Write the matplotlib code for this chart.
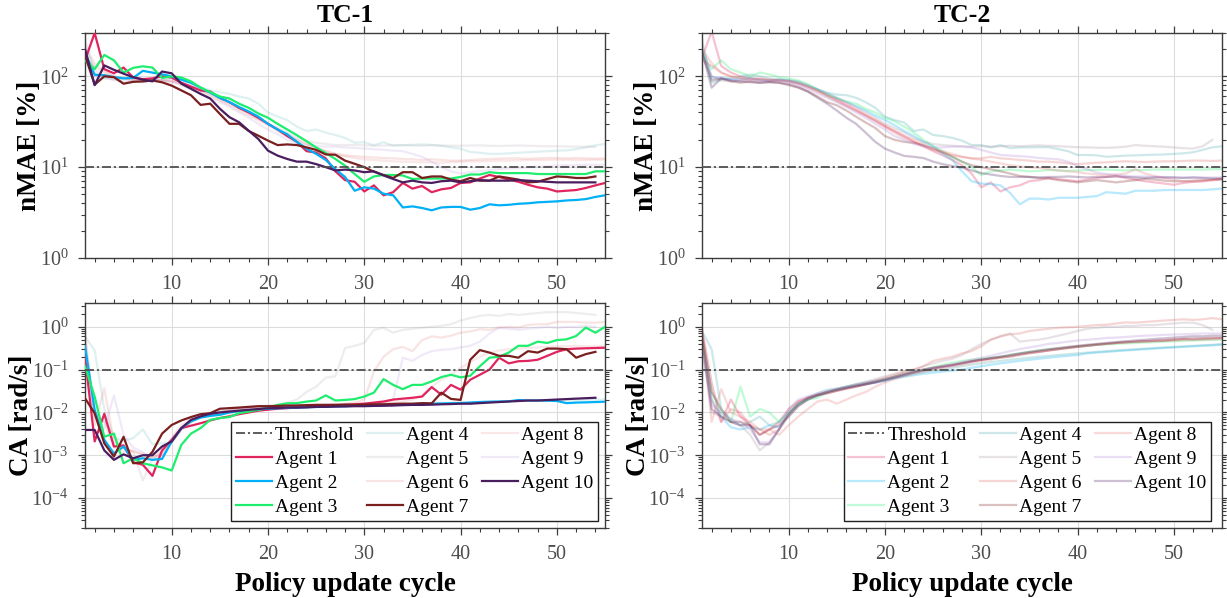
import numpy as np
import matplotlib
matplotlib.use('Agg')
import matplotlib.pyplot as plt
from matplotlib.ticker import MultipleLocator, LogLocator, NullFormatter

nan = np.nan

# ---------------- data ----------------
cycles = list(range(1, 56))
agent_names = ['Agent %d' % i for i in range(1, 11)]
agent_colors = ['#E0245E', '#00B0F6', '#1EEE6E', '#4FAFB0', '#A898A8',
                '#E06A6A', '#7A1F1F', '#E87A7A', '#B08AD8', '#4A1E5E']
tc1_highlight = [1, 2, 3, 7, 10]
nmae_threshold = 10
ca_threshold = 0.1

# TC-1, nMAE [%]
nmae1_a1 = [150, 300, 120, 108, 125, 97, 93, 95, 100, 97,
            85, 77, 70, 68, 58, 52, 45, 40, 35, 30,
            26, 22, 19, 15, 14.5, 12.5, 9.0, 7.2, 6.9, 5.4,
            6.3, 4.9, 5.3, 6.7, 5.8, 6.2, 5.3, 5.7, 5.9, 6.7,
            6.8, 7.5, 8.2, 7.8, 7.3, 6.9, 6.4, 6.0, 5.8, 5.4,
            5.5, 5.6, 5.9, 6.3, 6.7]
nmae1_a2 = [180, 104, 103, 98, 95, 96, 115, 110, 105, 100,
            92, 85, 75, 66, 58, 52, 46, 41, 36, 30,
            26, 23, 19, 16, 14, 12, 9.5, 7.8, 5.5, 6.0,
            5.8, 5.1, 4.9, 3.6, 3.7, 3.55, 3.35, 3.6, 3.65, 3.65,
            3.4, 3.55, 3.9, 3.8, 3.85, 3.95, 4.0, 4.1, 4.15, 4.2,
            4.3, 4.35, 4.45, 4.7, 4.9]
nmae1_a3 = [150, 120, 172, 150, 110, 124, 129, 125, 96, 100,
            97, 88, 75, 67, 60, 57, 50, 45, 39, 35,
            30, 26, 22.5, 19.3, 16.5, 14.3, 12.3, 10.4, 8.4, 6.9,
            7.9, 8.2, 8.2, 8.1, 7.4, 7.5, 7.5, 7.5, 7.5, 7.8,
            8.3, 8.3, 8.8, 8.6, 8.6, 8.6, 8.6, 8.4, 8.4, 8.4,
            8.4, 8.4, 8.4, 9.0, 9.0]
nmae1_a4 = [220, 110, 95, 95, 85, 88, 86, 90, 92, 95,
            88, 82, 76, 70, 67, 64, 60, 57, 50, 40,
            36, 33, 28, 25, 26, 24, 22.6, 21, 18.6, 18.8,
            17.4, 18.8, 17.2, 17.5, 17.6, 17.8, 17.6, 17.2, 16.5, 16.0,
            14.7, 14.4, 14.0, 14.0, 14.2, 14.4, 14.6, 14.8, 15.0, 15.2,
            15.3, 15.8, 16.5, 17.4, 18.0]
nmae1_a5 = [250, 120, 100, 90, 95, 90, 88, 90, 92, 90,
            85, 78, 72, 65, 58, 52, 45, 40, 35, 30,
            27, 24, 21, 19.5, 18.5, 18, 17.5, 17.5, 17.6, 17.4,
            17.2, 17.3, 17.5, 17.4, 17.3, 17.2, 17.4, 17.3, 17.2, 17.2,
            17.3, 17.4, 17.2, 17.1, 17.2, 17.3, 17.2, 17.1, 17.0, 17.0,
            16.9, 16.8, 16.8, 16.7, nan]
nmae1_a6 = [160, 130, 110, 100, 95, 92, 90, 92, 90, 88,
            82, 75, 68, 61, 54, 48, 42, 37, 33, 29,
            25, 22, 20, 18, 16.5, 15, 14, 13.5, 13.2, 13,
            12.8, 12.6, 12.5, 12.3, 12.2, 12.0, 12.2, 12.0, 11.8, 11.8,
            12.0, 12.2, 12.3, 12.4, 12.5, 12.5, 12.4, 12.5, 12.6, 12.6,
            12.5, 12.6, 12.5, 12.4, 12.5]
nmae1_a7 = [170, 81, 100, 98, 83, 87, 88, 90, 86, 79,
            70, 62, 48.5, 50, 38.6, 30, 30, 25, 22.2, 19.6,
            17.5, 17.8, 17.5, 16.5, 15.5, 13.8, 13.7, 11.8, 10.9, 10.0,
            8.9, 8.2, 7.6, 8.8, 8.8, 7.6, 7.9, 7.9, 7.3, 7.0,
            7.6, 7.1, 7.1, 7.9, 7.6, 7.3, 6.8, 6.9, 7.4, 7.9,
            7.8, 7.6, 7.6, 7.9, nan]
nmae1_a8 = [200, 140, 115, 100, 96, 94, 95, 92, 90, 88,
            84, 78, 70, 63, 56, 50, 44, 39, 34, 30,
            26, 23, 20, 18, 16, 15, 14, 13.2, 12.6, 12.2,
            12.0, 11.8, 11.6, 11.5, 11.4, 11.3, 11.3, 11.2, 11.4, 11.5,
            11.6, 11.6, 11.7, 11.8, 11.8, 11.9, 12.0, 12.0, 12.0, 12.1,
            12.1, 12.0, 12.0, 12.1, 12.1]
nmae1_a9 = [170, 100, 95, 93, 90, 92, 88, 90, 90, 86,
            80, 72, 65, 58, 52, 46, 40, 35, 30, 26,
            23, 20, 18.5, 17.5, 17, 16.8, 16.8, 16.5, 16.3, 16,
            15.8, 15.5, 15.2, 15, 14, 13, 11.5, 10, 9, 8.5,
            8.8, 9.0, 9.3, 9.5, 9.6, 9.8, 10.0, 10.1, 10.2, 10.4,
            10.5, 10.5, 10.6, 10.6, 10.7]
nmae1_a10 = [200, 80, 132, 118, 107, 98, 92, 88, 113, 108,
             83, 73, 64, 57, 44, 35.5, 31.2, 25.2, 20.4, 15.2,
             13.4, 12.3, 11.5, 11.5, 10.8, 10.0, 9.2, 9.4, 9.2, 8.8,
             9.0, 8.1, 7.4, 6.8, 7.1, 6.8, 6.7, 7.0, 7.1, 6.8,
             7.0, 7.2, 7.1, 7.1, 7.1, 7.2, 7.1, 7.0, 6.9, 6.8,
             6.8, 6.8, 6.8, 6.8, nan]

# TC-2, nMAE [%]
nmae2_a1 = [160, 310, 130, 110, 100, 95, 93, 90, 92, 90,
            85, 77, 70, 62, 55, 48, 42, 37, 32, 28,
            25, 22, 19, 17, 15, 13.5, 12, 10.5, 8.5, 6.0,
            6.8, 5.4, 6.0, 6.3, 7.0, 7.2, 7.6, 7.4, 7.2, 7.0,
            7.3, 7.6, 7.8, 8.0, 7.6, 7.3, 7.0, 6.8, 6.6, 6.4,
            6.7, 6.9, 7.0, 7.2, 7.3]
nmae2_a2 = [200, 95, 96, 92, 94, 96, 92, 90, 92, 90,
            85, 78, 72, 65, 58, 52, 47, 42, 37, 33,
            29, 25, 22, 19, 17, 14, 12, 9, 7, 6.6,
            6.5, 6.3, 5.2, 3.9, 4.5, 4.5, 4.4, 4.6, 4.6, 4.6,
            4.7, 4.8, 5.3, 5.2, 5.1, 5.5, 5.5, 5.5, 5.6, 5.6,
            5.6, 5.6, 5.6, 5.7, 5.8]
nmae2_a3 = [180, 120, 150, 120, 110, 100, 110, 105, 98, 95,
            90, 82, 72, 62, 57, 53, 50, 44, 40, 35,
            32, 28, 24, 20, 17, 15, 13, 11.5, 10, 8.2,
            9.0, 9.2, 9.4, 9.2, 9.0, 9.1, 9.3, 9.2, 9.1, 9.2,
            9.3, 9.3, 9.4, 9.3, 9.2, 9.3, 9.3, 9.4, 9.4, 9.4,
            9.4, 9.4, 9.4, 9.5, 9.5]
nmae2_a4 = [250, 85, 92, 96, 100, 105, 100, 95, 92, 90,
            88, 80, 72, 66, 63, 62, 58, 52, 45, 36,
            33, 31, 25, 26, 22.6, 22, 21, 19.6, 17.5, 17.5,
            16.5, 17.5, 16.2, 16.5, 16.5, 16.6, 16.6, 15.8, 15, 13.6,
            13.6, 13.5, 13.0, 13.2, 13.4, 13.5, 13.6, 13.7, 13.8, 14.0,
            14.2, 14.6, 15.5, 16.5, 17.0]
nmae2_a5 = [220, 100, 90, 88, 90, 95, 90, 88, 90, 88,
            84, 78, 70, 64, 58, 52, 46, 40, 35, 30,
            27, 24, 21, 19, 18, 17.5, 17.2, 17.0, 16.8, 17.0,
            16.8, 17.0, 17.2, 17.0, 17.2, 17.4, 17.2, 17.0, 16.8, 16.6,
            16.5, 16.4, 16.3, 16.5, 16.8, 17.5, 17.2, 17.0, 16.8, 16.5,
            16.2, 16.0, 17.0, 20.0, nan]
nmae2_a6 = [150, 130, 110, 100, 95, 90, 92, 92, 90, 88,
            82, 75, 68, 60, 53, 47, 42, 37, 33, 28,
            24, 21, 19, 17, 15.5, 14.5, 13.5, 13, 12.5, 12.5,
            13, 12.5, 12.3, 12, 11.8, 11.5, 11.5, 11.3, 11, 10.8,
            11, 11.2, 11.3, 11.5, 11.6, 11.5, 11.4, 11.5, 11.6, 11.6,
            11.7, 11.8, 11.8, 11.7, 11.8]
nmae2_a7 = [180, 90, 95, 88, 85, 88, 85, 87, 85, 80,
            75, 68, 60, 52, 48, 42, 36, 31, 27, 22,
            20, 19, 18.5, 17.5, 16, 14.5, 13, 11.5, 10.5, 10,
            9.5, 9.0, 8.5, 8.0, 7.8, 7.6, 7.5, 7.2, 7.0, 6.8,
            7.0, 7.2, 7.0, 6.8, 7.0, 7.2, 7.4, 7.3, 7.1, 7.0,
            7.0, 7.1, 7.2, 7.3, 7.4]
nmae2_a8 = [200, 140, 110, 100, 96, 94, 95, 92, 90, 88,
            84, 78, 70, 62, 56, 50, 44, 38, 33, 29,
            25, 22, 20, 18, 16, 15, 14, 13, 12.5, 12,
            11.5, 11, 10.5, 10.2, 10, 9.8, 9.5, 9.2, 9.0, 8.8,
            8.5, 8.3, 8.2, 8.3, 8.5, 9.5, 8.5, 8.0, 7.6, 7.3,
            7.0, 6.9, 7.0, 7.2, 7.5]
nmae2_a9 = [170, 100, 95, 93, 90, 92, 88, 90, 90, 86,
            80, 72, 65, 58, 52, 46, 40, 35, 30, 26,
            22, 20, 18, 17, 16.5, 16.5, 16.8, 16.8, 16.5, 15.5,
            14.5, 13.6, 13.4, 13.2, 13.0, 12.6, 12.4, 12.2, 11.5, 10.3,
            9.5, 8.7, 8.4, 8.2, 8.0, 7.9, 7.9, 7.8, 7.8, 7.7,
            7.7, 7.7, 7.7, 7.7, 7.7]
nmae2_a10 = [190, 75, 95, 90, 88, 86, 85, 86, 85, 82,
             76, 68, 58, 50, 42, 35, 30, 24, 19, 16,
             14.5, 13.3, 13, 12.6, 11.5, 10.8, 10.3, 9.9, 9.2, 8.6,
             8.3, 8.0, 7.8, 7.8, 7.8, 7.7, 7.8, 7.8, 7.9, 7.8,
             7.7, 7.8, 7.8, 7.9, 7.8, 7.7, 7.6, 7.7, 7.7, 7.7,
             7.6, 7.7, 7.6, 7.5, 7.5]

# TC-1, CA [rad/s]
ca1_a1 = [0.2, 0.0021, 0.0093, 0.0016, 0.0017, 6.8e-4, 6e-4, 3.3e-4, 1.3e-3, 2.3e-3,
          4.3e-3, 4.9e-3, 5.6e-3, 6.5e-3, 7.4e-3, 8.1e-3, 9.1e-3, 0.010, 0.011, 0.0116,
          0.0122, 0.0126, 0.013, 0.0133, 0.0136, 0.014, 0.0145, 0.015, 0.0155, 0.016,
          0.017, 0.018, 0.020, 0.021, 0.022, 0.0235, 0.039, 0.026, 0.044, 0.034,
          0.058, 0.076, 0.10, 0.19, 0.14, 0.157, 0.16, 0.17, 0.21, 0.26,
          0.30, 0.31, 0.315, 0.32, 0.325]
ca1_a2 = [0.35, 0.0115, 2.3e-3, 1.1e-3, 1.6e-3, 7.8e-4, 8.5e-4, 7.8e-4, 8.2e-4, 2.1e-3,
          4.3e-3, 6.2e-3, 7.6e-3, 8.3e-3, 8.8e-3, 0.010, 0.0107, 0.0112, 0.0118, 0.0122,
          0.0125, 0.0128, 0.013, 0.0132, 0.0134, 0.0136, 0.0138, 0.014, 0.0143, 0.0145,
          0.0147, 0.015, 0.015, 0.0152, 0.0155, 0.0157, 0.016, 0.0162, 0.0164, 0.0165,
          0.017, 0.0175, 0.0178, 0.018, 0.0182, 0.0195, 0.019, 0.019, 0.0188, 0.0185,
          0.0165, 0.017, 0.0172, 0.0175, 0.0178]
ca1_a3 = [0.12, 0.0235, 2.7e-3, 3.2e-3, 6.5e-4, 8.5e-4, 6.5e-4, 5.8e-4, 5.2e-4, 4.4e-4,
          1.75e-3, 3.2e-3, 4.3e-3, 6.7e-3, 7.4e-3, 7.8e-3, 9.6e-3, 0.0105, 0.0115, 0.0128,
          0.015, 0.0163, 0.0165, 0.0179, 0.019, 0.025, 0.019, 0.0196, 0.0205, 0.0235,
          0.029, 0.060, 0.044, 0.035, 0.044, 0.044, 0.053, 0.067, 0.076, 0.066,
          0.072, 0.12, 0.19, 0.20, 0.25, 0.36, 0.36, 0.45, 0.42, 0.49,
          0.51, 0.61, 0.96, 0.73, 1.0]
ca1_a4 = [0.6, 0.28, 0.012, 0.0025, 0.0022, 0.0025, 0.004, 0.0018, 0.0019, 0.002,
          0.004, 0.006, 0.0075, 0.0085, 0.009, 0.0095, 0.010, 0.011, 0.012, 0.0125,
          0.013, 0.0135, 0.014, 0.0142, 0.0145, 0.0148, 0.015, 0.015, 0.0152, 0.0155,
          0.0156, 0.0157, 0.0158, 0.016, 0.0162, 0.0164, 0.0166, 0.0168, 0.017, 0.0172,
          0.0174, 0.0176, 0.0178, 0.018, 0.0182, 0.0184, 0.0186, 0.0188, 0.019, 0.0192,
          0.0194, 0.0196, 0.0198, 0.02, 0.02]
ca1_a5 = [0.5, 0.01, 0.006, 0.0015, 0.0015, 0.0012, 0.00026, 0.0008, 0.0012, 0.002,
          0.004, 0.006, 0.008, 0.009, 0.01, 0.011, 0.012, 0.013, 0.014, 0.0145,
          0.015, 0.017, 0.02, 0.03, 0.04, 0.065, 0.07, 0.32, 0.36, 0.42,
          0.85, 0.95, 0.73, 0.85, 0.9, 0.95, 1.0, 1.05, 1.15, 1.4,
          1.6, 1.8, 1.9, 1.8, 2.0, 1.9, 2.0, 2.1, 2.2, 2.2,
          2.2, 2.1, 2.0, 1.9, nan]
ca1_a6 = [0.9, 0.005, 0.037, 0.002, 0.0015, 0.0012, 0.0011, 0.0009, 0.0012, 0.0025,
          0.005, 0.007, 0.0085, 0.0095, 0.0105, 0.011, 0.012, 0.0125, 0.013, 0.0135,
          0.014, 0.014, 0.0145, 0.0145, 0.015, 0.015, 0.0155, 0.016, 0.017, 0.02,
          0.09, 0.2, 0.3, 0.34, 0.27, 0.49, 0.6, 0.56, 0.62, 0.73,
          0.78, 0.88, 0.85, 0.96, 1.0, 0.96, 1.1, 1.15, 1.15, 1.3,
          1.3, 1.3, 1.25, 1.25, 1.3]
ca1_a7 = [0.0215, 0.0096, 1.9e-3, 9.3e-4, 2.7e-3, 6.5e-4, 6.8e-4, 1.2e-3, 3.2e-3, 5.1e-3,
          6.5e-3, 7.8e-3, 9.1e-3, 9.6e-3, 0.0122, 0.0126, 0.013, 0.0135, 0.014, 0.014,
          0.0142, 0.0145, 0.0145, 0.0148, 0.015, 0.015, 0.015, 0.0152, 0.015, 0.0153,
          0.0155, 0.0155, 0.0158, 0.016, 0.016, 0.0165, 0.0163, 0.029, 0.0207, 0.0196,
          0.17, 0.286, 0.25, 0.21, 0.21, 0.19, 0.27, 0.25, 0.31, 0.31,
          0.30, 0.19, 0.23, 0.26, nan]
ca1_a8 = [0.4, 0.008, 0.006, 0.003, 0.0012, 0.0013, 0.001, 0.0009, 0.001, 0.002,
          0.004, 0.006, 0.008, 0.009, 0.01, 0.011, 0.012, 0.0125, 0.013, 0.0135,
          0.014, 0.014, 0.0145, 0.015, 0.015, 0.015, 0.0155, 0.0155, 0.016, 0.016,
          0.0165, 0.017, 0.0175, 0.018, 0.02, 0.025, 0.04, 0.058, 0.076, 0.11,
          0.15, 0.2, 0.25, 0.28, 0.3, 0.31, 0.32, 0.33, 0.34, 0.35,
          0.35, 0.36, 0.35, 0.35, 0.36]
ca1_a9 = [0.3, 0.008, 0.004, 0.025, 0.003, 0.0015, 0.0012, 0.0008, 0.001, 0.002,
          0.004, 0.006, 0.008, 0.0095, 0.0105, 0.011, 0.012, 0.0125, 0.013, 0.0135,
          0.014, 0.014, 0.0145, 0.0145, 0.015, 0.015, 0.015, 0.0155, 0.0155, 0.016,
          0.016, 0.0165, 0.02, 0.19, 0.16, 0.22, 0.27, 0.29, 0.3, 0.33,
          0.36, 0.45, 0.7, 0.95, 0.9, 0.85, 0.9, 0.95, 1.0, 0.95,
          1.0, 1.0, 1.05, 1.0, nan]
ca1_a10 = [3.9e-3, 3.9e-3, 1.3e-3, 7.8e-4, 1.05e-3, 8.5e-4, 1e-3, 1e-3, 1.6e-3, 2.1e-3,
           4.3e-3, 6.7e-3, 8.1e-3, 9.3e-3, 0.010, 0.0105, 0.011, 0.0115, 0.012, 0.0125,
           0.0127, 0.013, 0.013, 0.0132, 0.0135, 0.0135, 0.0137, 0.0138, 0.014, 0.014,
           0.0142, 0.0143, 0.0145, 0.0148, 0.015, 0.015, 0.0152, 0.0155, 0.0157, 0.016,
           0.016, 0.0165, 0.017, 0.0175, 0.018, 0.0185, 0.019, 0.019, 0.0195, 0.020,
           0.0205, 0.021, 0.0215, 0.022, nan]

# TC-2, CA [rad/s]
ca2_a1 = [0.9, 0.05, 0.006, 0.02, 0.008, 0.005, 0.003, 0.004, 0.006, 0.012,
          0.018, 0.022, 0.025, 0.028, 0.032, 0.036, 0.04, 0.045, 0.05, 0.058,
          0.068, 0.08, 0.09, 0.1, 0.11, 0.12, 0.13, 0.145, 0.16, 0.17,
          0.185, 0.2, 0.21, 0.23, 0.25, 0.26, 0.28, 0.3, 0.32, 0.34,
          0.36, 0.38, 0.4, 0.42, 0.43, 0.45, 0.46, 0.47, 0.48, 0.5,
          0.52, 0.5, 0.52, 0.53, 0.55]
ca2_a2 = [0.5, 0.02, 0.008, 0.0045, 0.004, 0.0045, 0.004, 0.005, 0.0045, 0.009,
          0.015, 0.02, 0.025, 0.03, 0.034, 0.038, 0.042, 0.046, 0.05, 0.055,
          0.062, 0.068, 0.074, 0.08, 0.085, 0.09, 0.095, 0.1, 0.11, 0.12,
          0.13, 0.14, 0.15, 0.16, 0.17, 0.18, 0.19, 0.2, 0.21, 0.22,
          0.24, 0.25, 0.26, 0.27, 0.28, 0.29, 0.3, 0.31, 0.32, 0.33,
          0.34, 0.35, 0.36, 0.37, 0.38]
ca2_a3 = [0.6, 0.03, 0.01, 0.006, 0.04, 0.008, 0.012, 0.01, 0.006, 0.01,
          0.016, 0.02, 0.022, 0.03, 0.035, 0.04, 0.045, 0.05, 0.055, 0.06,
          0.07, 0.08, 0.09, 0.1, 0.115, 0.13, 0.145, 0.16, 0.17, 0.18,
          0.19, 0.2, 0.22, 0.24, 0.26, 0.28, 0.3, 0.31, 0.33, 0.35,
          0.36, 0.38, 0.39, 0.4, 0.41, 0.42, 0.43, 0.44, 0.45, 0.46,
          0.47, 0.48, 0.49, 0.5, 0.5]
ca2_a4 = [0.8, 0.3, 0.012, 0.007, 0.005, 0.006, 0.008, 0.005, 0.006, 0.01,
          0.015, 0.022, 0.028, 0.034, 0.036, 0.04, 0.044, 0.048, 0.053, 0.058,
          0.065, 0.072, 0.08, 0.088, 0.095, 0.1, 0.11, 0.12, 0.13, 0.14,
          0.15, 0.16, 0.17, 0.18, 0.19, 0.2, 0.21, 0.22, 0.23, 0.24,
          0.25, 0.26, 0.27, 0.28, 0.29, 0.3, 0.31, 0.32, 0.33, 0.34,
          0.35, 0.36, 0.37, 0.38, 0.4]
ca2_a5 = [0.4, 0.01, 0.008, 0.006, 0.005, 0.003, 0.0013, 0.002, 0.004, 0.008,
          0.014, 0.02, 0.025, 0.03, 0.035, 0.04, 0.046, 0.052, 0.06, 0.07,
          0.08, 0.09, 0.1, 0.12, 0.14, 0.16, 0.18, 0.22, 0.3, 0.4,
          0.5, 0.6, 0.7, 0.45, 0.48, 0.5, 0.55, 0.62, 0.7, 0.8,
          0.9, 0.95, 1.0, 1.0, 1.05, 1.05, 1.1, 1.1, 1.15, 1.2,
          1.25, 1.25, 1.1, 0.85, nan]
ca2_a6 = [0.7, 0.02, 0.006, 0.012, 0.01, 0.005, 0.004, 0.003, 0.004, 0.01,
          0.018, 0.022, 0.026, 0.03, 0.034, 0.038, 0.042, 0.048, 0.055, 0.065,
          0.075, 0.09, 0.1, 0.12, 0.16, 0.18, 0.2, 0.24, 0.27, 0.35,
          0.5, 0.6, 0.67, 0.7, 0.8, 0.85, 0.9, 0.95, 0.98, 1.0,
          1.05, 1.1, 1.12, 1.2, 1.27, 1.25, 1.3, 1.35, 1.4, 1.45,
          1.5, 1.45, 1.5, 1.6, 1.5]
ca2_a7 = [0.7, 0.03, 0.012, 0.006, 0.006, 0.005, 0.003, 0.004, 0.005, 0.008,
          0.014, 0.02, 0.025, 0.028, 0.032, 0.036, 0.04, 0.045, 0.052, 0.06,
          0.068, 0.078, 0.088, 0.1, 0.11, 0.12, 0.13, 0.14, 0.155, 0.17,
          0.18, 0.19, 0.2, 0.22, 0.24, 0.26, 0.28, 0.3, 0.32, 0.34,
          0.36, 0.38, 0.4, 0.42, 0.44, 0.45, 0.46, 0.47, 0.48, 0.5,
          0.52, 0.53, 0.54, 0.55, 0.55]
ca2_a8 = [0.9, 0.006, 0.035, 0.01, 0.008, 0.006, 0.004, 0.004, 0.003, 0.005,
          0.008, 0.012, 0.018, 0.02, 0.016, 0.02, 0.025, 0.03, 0.04, 0.05,
          0.06, 0.07, 0.08, 0.09, 0.1, 0.11, 0.12, 0.13, 0.145, 0.16,
          0.17, 0.19, 0.21, 0.23, 0.25, 0.27, 0.29, 0.31, 0.33, 0.35,
          0.37, 0.39, 0.4, 0.42, 0.43, 0.44, 0.45, 0.46, 0.47, 0.48,
          0.49, 0.5, 0.5, 0.51, 0.52]
ca2_a9 = [0.3, 0.015, 0.01, 0.007, 0.006, 0.004, 0.002, 0.002, 0.004, 0.012,
          0.02, 0.024, 0.028, 0.032, 0.036, 0.04, 0.045, 0.05, 0.055, 0.06,
          0.068, 0.078, 0.09, 0.1, 0.11, 0.12, 0.13, 0.15, 0.17, 0.19,
          0.21, 0.24, 0.27, 0.3, 0.33, 0.36, 0.4, 0.42, 0.45, 0.48,
          0.5, 0.52, 0.55, 0.56, 0.58, 0.6, 0.62, 0.63, 0.65, 0.66,
          0.67, 0.68, 0.7, 0.7, 0.7]
ca2_a10 = [0.5, 0.012, 0.008, 0.006, 0.005, 0.005, 0.0018, 0.0018, 0.004, 0.009,
           0.016, 0.022, 0.026, 0.03, 0.034, 0.038, 0.042, 0.046, 0.05, 0.056,
           0.064, 0.074, 0.085, 0.095, 0.105, 0.115, 0.125, 0.14, 0.155, 0.17,
           0.185, 0.2, 0.22, 0.24, 0.26, 0.28, 0.3, 0.32, 0.34, 0.36,
           0.38, 0.4, 0.42, 0.44, 0.46, 0.48, 0.5, 0.52, 0.54, 0.56,
           0.58, 0.6, 0.6, 0.62, 0.62]

nmae_tc1 = [nmae1_a1, nmae1_a2, nmae1_a3, nmae1_a4, nmae1_a5,
            nmae1_a6, nmae1_a7, nmae1_a8, nmae1_a9, nmae1_a10]
nmae_tc2 = [nmae2_a1, nmae2_a2, nmae2_a3, nmae2_a4, nmae2_a5,
            nmae2_a6, nmae2_a7, nmae2_a8, nmae2_a9, nmae2_a10]
ca_tc1 = [ca1_a1, ca1_a2, ca1_a3, ca1_a4, ca1_a5,
          ca1_a6, ca1_a7, ca1_a8, ca1_a9, ca1_a10]
ca_tc2 = [ca2_a1, ca2_a2, ca2_a3, ca2_a4, ca2_a5,
          ca2_a6, ca2_a7, ca2_a8, ca2_a9, ca2_a10]

# ---------------- style ----------------
plt.rcParams['font.family'] = ['Liberation Serif', 'DejaVu Serif']
plt.rcParams['mathtext.fontset'] = 'custom'
plt.rcParams['mathtext.rm'] = 'Liberation Serif'
plt.rcParams['mathtext.it'] = 'Liberation Serif:italic'
plt.rcParams['mathtext.bf'] = 'Liberation Serif:bold'

tick_gray = '#4D4D4D'
axis_gray = '#3C3C3C'
thr_style = (0, (5, 1.6, 1.2, 1.6))

fig = plt.figure(figsize=(12.27, 5.98), dpi=100)
ax_tl = fig.add_axes([0.0693, 0.5686, 0.4238, 0.3762])
ax_tr = fig.add_axes([0.5721, 0.5686, 0.4238, 0.3762])
ax_bl = fig.add_axes([0.0693, 0.1171, 0.4238, 0.3762])
ax_br = fig.add_axes([0.5721, 0.1171, 0.4238, 0.3762])


def style_axes(ax, ylim, ylabel):
    ax.set_yscale('log')
    ax.set_xlim(1, 55)
    ax.set_ylim(*ylim)
    ax.xaxis.set_major_locator(MultipleLocator(10))
    ax.xaxis.set_minor_locator(MultipleLocator(2))
    ax.yaxis.set_major_locator(LogLocator(base=10, numticks=20))
    ax.yaxis.set_minor_locator(LogLocator(base=10, subs=np.arange(2, 10), numticks=20))
    ax.yaxis.set_minor_formatter(NullFormatter())
    ax.grid(True, which='major', color='#DCDCDC', linewidth=0.8)
    ax.set_axisbelow(True)
    ax.tick_params(which='both', direction='out', top=True, right=True,
                   color=axis_gray, labelcolor=tick_gray, labelsize=14.5, pad=7)
    ax.tick_params(which='major', length=5, width=0.9)
    ax.tick_params(which='minor', length=3, width=0.8)
    for s in ax.spines.values():
        s.set_color(axis_gray)
        s.set_linewidth(1.0)
    ax.set_ylabel(ylabel, fontsize=19.5, fontweight='bold', labelpad=-2)


def draw_panel(ax, series, threshold, strong, faint_alpha):
    handles = []
    thr = ax.axhline(threshold, color='#505050', lw=1.3, ls=thr_style, zorder=5,
                     label='Threshold')
    handles.append(thr)
    for i, vals in enumerate(series):
        if (i + 1) in strong:
            a, z = 1.0, 4
        else:
            a, z = faint_alpha, 2
        ln, = ax.plot(cycles, vals, color=agent_colors[i], lw=1.6, alpha=a,
                      zorder=z, label=agent_names[i])
        handles.append(ln)
    return handles


draw_panel(ax_tl, nmae_tc1, nmae_threshold, tc1_highlight, 0.18)
draw_panel(ax_tr, nmae_tc2, nmae_threshold, [], 0.28)
h_bl = draw_panel(ax_bl, ca_tc1, ca_threshold, tc1_highlight, 0.18)
h_br = draw_panel(ax_br, ca_tc2, ca_threshold, [], 0.28)

style_axes(ax_tl, (1, 300), 'nMAE [%]')
style_axes(ax_tr, (1, 300), 'nMAE [%]')
style_axes(ax_bl, (2e-5, 3.6), 'CA [rad/s]')
style_axes(ax_br, (2e-5, 3.6), 'CA [rad/s]')

ax_tl.set_title('TC-1', fontsize=18.5, fontweight='bold', pad=8)
ax_tr.set_title('TC-2', fontsize=18.5, fontweight='bold', pad=8)
ax_bl.set_xlabel('Policy update cycle', fontsize=19.5, fontweight='bold', labelpad=6)
ax_br.set_xlabel('Policy update cycle', fontsize=19.5, fontweight='bold', labelpad=6)

for ax, hs, x_right in [(ax_bl, h_bl, 0.987), (ax_br, h_br, 0.979)]:
    leg = ax.legend(handles=hs, ncol=3, loc='lower right',
                    bbox_to_anchor=(x_right, 0.031), borderaxespad=0,
                    fontsize=14, frameon=True, fancybox=False,
                    edgecolor='#202020', framealpha=1, handlelength=1.85,
                    handletextpad=0.15, columnspacing=0.7, labelspacing=0.33,
                    borderpad=0.25)
    leg.get_frame().set_linewidth(1.0)
    leg.set_zorder(10)

fig.savefig('out.png', dpi=100)
